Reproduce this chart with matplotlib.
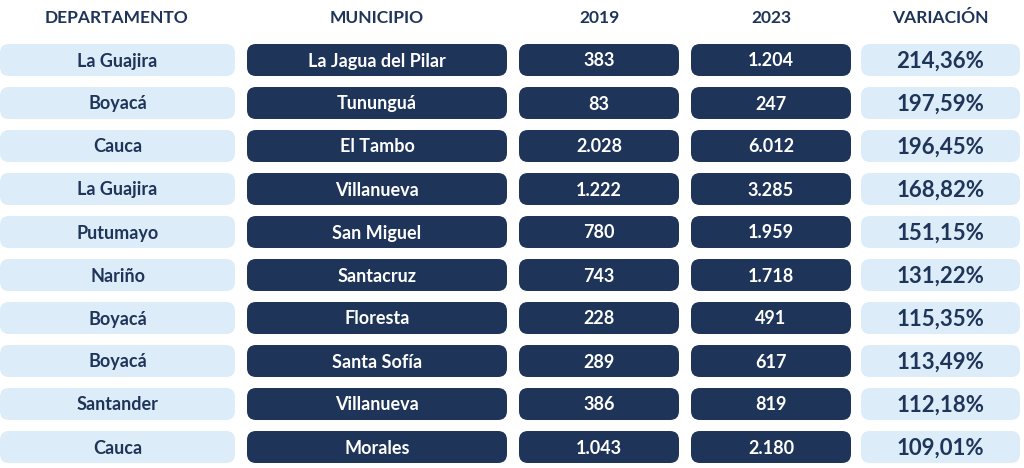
import matplotlib.pyplot as plt
from matplotlib.patches import FancyBboxPatch

# Data
headers = ['DEPARTAMENTO', 'MUNICIPIO', '2019', '2023', 'VARIACIÓN']
departamentos = ['La Guajira', 'Boyacá', 'Cauca', 'La Guajira', 'Putumayo',
                 'Nariño', 'Boyacá', 'Boyacá', 'Santander', 'Cauca']
municipios = ['La Jagua del Pilar', 'Tununguá', 'El Tambo', 'Villanueva', 'San Miguel',
              'Santacruz', 'Floresta', 'Santa Sofía', 'Villanueva', 'Morales']
val_2019 = ['383', '83', '2.028', '1.222', '780', '743', '228', '289', '386', '1.043']
val_2023 = ['1.204', '247', '6.012', '3.285', '1.959', '1.718', '491', '617', '819', '2.180']
variacion = ['214,36%', '197,59%', '196,45%', '168,82%', '151,15%',
             '131,22%', '115,35%', '113,49%', '112,18%', '109,01%']

light = '#dcecf8'
dark = '#1e3459'

plt.rcParams['font.family'] = ['Lato', 'DejaVu Sans']

fig = plt.figure(figsize=(10.24, 4.68), dpi=100)
ax = fig.add_axes([0, 0, 1, 1])
ax.set_xlim(0, 1024)
ax.set_ylim(468, 0)
ax.axis('off')

# column layout: (left, right, fill, text colour, fontsize)
cols = [(0, 235, light, dark, 13),
        (247, 507, dark, 'white', 13),
        (519, 679, dark, 'white', 13),
        (691, 851, dark, 'white', 13),
        (861, 1020, light, dark, 16)]
header_x = [117, 377, 599, 771, 940]

for x, h in zip(header_x, headers):
    ax.text(x, 18, h, ha='center', va='center', fontsize=12.5, fontweight='bold', color=dark)

columns = [departamentos, municipios, val_2019, val_2023, variacion]
y0, step, hgt = 60, 43, 32
for i in range(len(departamentos)):
    y = y0 + i * step
    for (l, r, fc, tc, fs), data in zip(cols, columns):
        ax.add_patch(FancyBboxPatch((l + 8, y - hgt / 2), r - l - 16, hgt,
                                    boxstyle='round,pad=0,rounding_size=8',
                                    mutation_aspect=1, fc=fc, ec='none'))
        ax.add_patch(FancyBboxPatch((l, y - hgt / 2), r - l, hgt,
                                    boxstyle='round,pad=0,rounding_size=9',
                                    fc=fc, ec='none'))
        ax.text((l + r) / 2, y + 1, data[i], ha='center', va='center',
                fontsize=fs, fontweight='bold', color=tc)

fig.savefig('out.png', dpi=100, facecolor='white')
